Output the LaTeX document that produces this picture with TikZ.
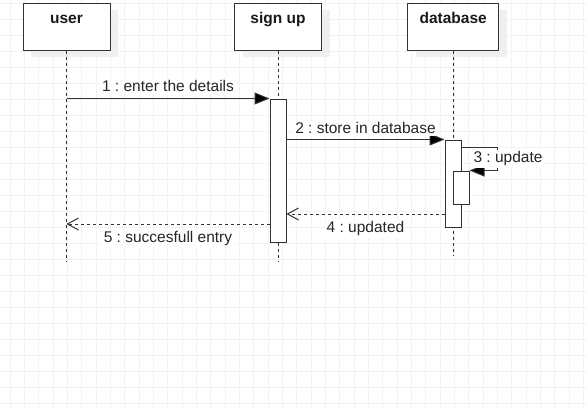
\documentclass[tikz,border=0pt]{standalone}
\usepackage{fontspec}
\setmainfont{Liberation Sans}
\frenchspacing
\usetikzlibrary{arrows.meta,shadows}
\tikzstyle{arrow} = [-{Triangle[length=15pt,width=12pt,fill=black]},line width=1pt,draw=black!80]
\tikzstyle{reply} = [-{Straight Barb[length=11pt,width=12pt]},line width=1pt,draw=black!80,dash pattern=on 3pt off 3pt]
\tikzstyle{lifeline} = [line width=1pt,draw=black!80,dash pattern=on 3pt off 3pt]
\tikzstyle{object} = [draw=black!80,line width=1pt,fill=white,minimum width=87pt,minimum height=47pt,inner sep=0pt,drop shadow={shadow xshift=8pt,shadow yshift=-7pt,fill=black!6,opacity=1}]
\tikzstyle{title} = [font=\fontsize{15.5}{18}\selectfont\bfseries,text=black!90,anchor=base,inner sep=0pt]
\tikzstyle{activation} = [draw=black!80,line width=1pt,fill=white,minimum width=16pt,inner sep=0pt]
\tikzstyle{msglabel} = [font=\fontsize{15.5}{18}\selectfont,text=black!85,fill=white,inner sep=2pt]
\tikzstyle{gridline} = [draw=black!5,line width=0.7pt]

\begin{document}
\begin{tikzpicture}[x=1pt,y=-1pt]
        \useasboundingbox (0,0) rectangle (587,408);
        % background grid
        \foreach \gx in {0,...,40} \draw[gridline] ({10+14.333*\gx},0) -- ({10+14.333*\gx},408);
        \foreach \gy in {0,...,25} \draw[gridline] (0,{3.5+16*\gy}) -- (587,{3.5+16*\gy});

        % objects
        \node[object] at (66.5,26.5) (user) {};
        \node[object] at (278,26.5) (signup) {};
        \node[object, minimum width=91pt] at (453.2,26.5) (db) {};
        \node[title] at (66.5,23.3) (usert) {user};
        \node[title] at (278,23.3) (signupt) {sign up};
        \node[title] at (453.2,23.3) (dbt) {database};

        % lifelines
        \coordinate (userend) at (66.5,262);
        \coordinate (signupend) at (278,262);
        \coordinate (dbend) at (453.2,256);
        \draw[lifeline] (user) -- (userend);
        \draw[lifeline] (signup) -- (signupend);
        \draw[lifeline] (db) -- (dbend);

        % activations
        \node[activation, minimum height=143pt] at (278,170.5) (act1) {};
        \node[activation, minimum height=87pt] at (453,183.5) (act2) {};
        \node[activation, minimum height=33pt] at (461,187.5) (act3) {};

        % messages
        \coordinate (loop) at (497,147);
        \coordinate (y4) at (0,214);
        \coordinate (y5) at (0,224);
        \draw[arrow] (user |- act1.north) -- node[msglabel, above=4pt]{1 : enter the details} (act1.north west);
        \draw[arrow] (act1.east |- act2.north) -- node[msglabel, above=3pt]{2 : store in database} (act2.north west);
        \draw[arrow] (act2.east |- loop) -- (loop) |- node[msglabel, pos=0.25, xshift=11pt]{3 : update} (act3.north east);
        \draw[reply] (act2.west |- y4) -- node[msglabel, below=5pt]{4 : updated} (act1.east |- y4);
        \draw[reply] (act1.west |- y5) -- node[msglabel, below=5pt]{5 : succesfull entry} (user |- y5);
\end{tikzpicture}
\end{document}
